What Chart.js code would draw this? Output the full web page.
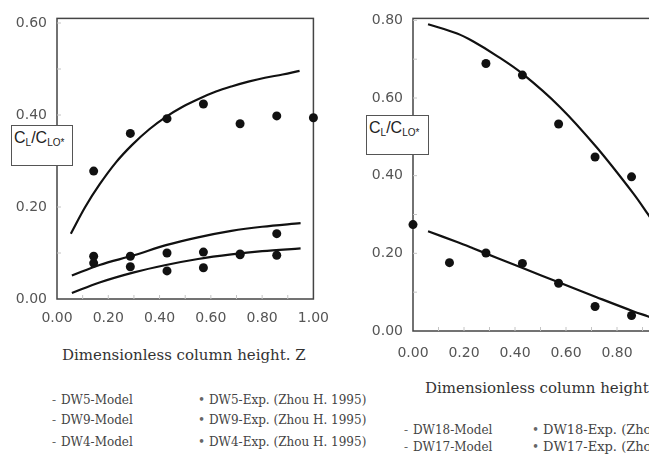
<!DOCTYPE html>
<html><head><meta charset="utf-8">
<script src="https://cdn.jsdelivr.net/npm/chart.js@4/dist/chart.umd.min.js"></script>
<style>
html,body{margin:0;padding:0;width:649px;height:456px;overflow:hidden;background:#fff;position:relative;}
canvas{position:absolute;top:0;}
#c1{left:0;}
#c2{left:340px;}
.ytitle{position:absolute;background:#fff;border:1.3px solid #555;box-sizing:border-box;font-family:'Liberation Sans',Arial,sans-serif;font-size:16px;color:#222;padding:3px 0 0 2px;line-height:18px;white-space:nowrap;}
.ytitle sub{font-size:10px;vertical-align:-3px;}
.xtitle{position:absolute;font-family:'DejaVu Serif',serif;font-size:15px;color:#333;white-space:nowrap;line-height:18px;}
.leg{position:absolute;font-family:'DejaVu Serif',serif;font-size:12px;color:#444;white-space:nowrap;line-height:14px;}
</style>
</head><body>
<canvas id="c1" width="340" height="335"></canvas>
<canvas id="c2" width="360" height="370"></canvas>
<div class="ytitle" style="left:11px;top:125px;width:62px;height:41px;">C<sub>L</sub>/C<sub>LO*</sub></div>
<div class="ytitle" style="left:366px;top:115px;width:63px;height:40px;">C<sub>L</sub>/C<sub>LO*</sub></div>
<div class="xtitle" style="left:62px;top:346px;">Dimensionless column height. Z</div>
<div class="xtitle" style="left:425px;top:379px;">Dimensionless column height. Z</div>
<div id="legends"></div>
<script>
// ---------- data: left panel ----------
const expX = [0.143, 0.286, 0.429, 0.571, 0.714, 0.857, 1.0];
const dw5Exp = [0.278, 0.360, 0.392, 0.424, 0.381, 0.398, 0.394];
const dw9dw4X = [0.143, 0.286, 0.429, 0.571, 0.714, 0.857];
const dw9Exp = [0.093, 0.093, 0.100, 0.102, 0.098, 0.142];
const dw4Exp = [0.078, 0.070, 0.061, 0.068, 0.096, 0.095];

const dw5ModelX = [0.054, 0.110, 0.166, 0.230, 0.293, 0.360, 0.425, 0.490, 0.552, 0.620, 0.680, 0.750, 0.811, 0.880, 0.946];
const dw5ModelY = [0.142, 0.200, 0.249, 0.297, 0.335, 0.369, 0.396, 0.418, 0.435, 0.451, 0.462, 0.473, 0.481, 0.488, 0.496];
const lowModelX = [0.058, 0.166, 0.300, 0.425, 0.550, 0.680, 0.800, 0.950];
const dw9ModelY = [0.051, 0.074, 0.095, 0.117, 0.134, 0.148, 0.157, 0.165];
const dw4ModelY = [0.013, 0.036, 0.058, 0.074, 0.087, 0.097, 0.104, 0.110];

// ---------- data: right panel ----------
const dw18ExpX = [0.286, 0.429, 0.571, 0.714, 0.857];
const dw18Exp = [0.689, 0.659, 0.533, 0.448, 0.397];
const dw17ExpX = [0.0, 0.143, 0.286, 0.429, 0.571, 0.714, 0.857];
const dw17Exp = [0.274, 0.176, 0.201, 0.174, 0.123, 0.063, 0.040];
const rModelX = [0.059, 0.173, 0.235, 0.330, 0.430, 0.576, 0.720, 0.863, 0.920, 0.950];
const dw18ModelY = [0.790, 0.766, 0.746, 0.708, 0.662, 0.577, 0.473, 0.355, 0.302, 0.272];
const dw17ModelY = [0.257, 0.229, 0.213, 0.188, 0.162, 0.124, 0.087, 0.051, 0.038, 0.031];

const leftLabels = ['DW5-Model','DW9-Model','DW4-Model','DW5-Exp. (Zhou H. 1995)','DW9-Exp. (Zhou H. 1995)','DW4-Exp. (Zhou H. 1995)'];
const rightLabels = ['DW18-Model','DW17-Model','DW18-Exp. (Zhou H. 1995)','DW17-Exp. (Zhou H. 1995)'];
const xTicks = [0, 0.2, 0.4, 0.6, 0.8, 1.0];

function pts(xs, ys){ return ys.map((y,i)=>({x:xs[i], y:y})); }
function lineDs(label, xs, ys){
  return {label, data:pts(xs,ys), showLine:true, borderColor:'#111', borderWidth:2.2, pointRadius:0, tension:0.35, fill:false};
}
function dotDs(label, xs, ys){
  return {label, data:pts(xs,ys), showLine:false, backgroundColor:'#111', borderColor:'#111', pointRadius:4.5, pointBorderWidth:0, clip:false};
}

const boxPlugin = {
  id:'box',
  beforeDatasetsDraw(chart){
    const a = chart.chartArea, c = chart.ctx;
    c.save(); c.strokeStyle='#444'; c.lineWidth=1.5;
    c.strokeRect(a.left, a.top, a.right-a.left, a.bottom-a.top);
    c.strokeStyle='#c4c4c4'; c.lineWidth=1;
    const xs = chart.scales.x, ys = chart.scales.y;
    for(let v=0.1; v<1.0001; v+=0.1){ const px=xs.getPixelForValue(v); if(px<a.right-1){c.beginPath();c.moveTo(px,a.bottom);c.lineTo(px,a.bottom-4);c.stroke();} }
    for(let v=0.1; v<ys.max; v+=0.1){ const py=ys.getPixelForValue(v); c.beginPath();c.moveTo(a.left,py);c.lineTo(a.left+4,py);c.stroke(); }
    c.restore();
  }
};

function makeChart(id, datasets, ymax, pad, yW, xH, xPad){
  return new Chart(document.getElementById(id), {
    type:'scatter',
    data:{datasets},
    plugins:[boxPlugin],
    options:{
      responsive:false, animation:false,
      layout:{padding:pad},
      plugins:{legend:{display:false}, tooltip:{enabled:false}},
      scales:{
        x:{type:'linear', min:0, max:1,
           afterBuildTicks(s){ s.ticks = xTicks.map(v=>({value:v})); },
           afterFit(s){ s.height = xH; },
           grid:{display:false, drawTicks:false}, border:{display:false},
           ticks:{padding:xPad, color:'#555', maxRotation:0, autoSkip:false, font:{family:'DejaVu Sans', size:14}, callback:v=>Number(v).toFixed(2)}},
        y:{type:'linear', min:0, max:ymax,
           afterBuildTicks(s){ const t=[]; for(let v=0; v<=ymax+1e-9; v+=0.2){ t.push({value:Math.round(v*10)/10}); } s.ticks=t; },
           afterFit(s){ s.width = yW; },
           grid:{display:false, drawTicks:false}, border:{display:false},
           ticks:{padding:10, color:'#555', font:{family:'DejaVu Sans', size:14}, callback:v=>Number(v).toFixed(2)}}
      }
    }
  });
}

const leftSets = [
  lineDs(leftLabels[0], dw5ModelX, dw5ModelY),
  lineDs(leftLabels[1], lowModelX, dw9ModelY),
  lineDs(leftLabels[2], lowModelX, dw4ModelY),
  dotDs(leftLabels[3], expX, dw5Exp),
  dotDs(leftLabels[4], dw9dw4X, dw9Exp),
  dotDs(leftLabels[5], dw9dw4X, dw4Exp)
];
makeChart('c1', leftSets, 0.61, {top:11, right:24, left:0, bottom:1}, 57, 35, 11);

const rightSets = [
  lineDs(rightLabels[0], rModelX, dw18ModelY),
  lineDs(rightLabels[1], rModelX, dw17ModelY),
  dotDs(rightLabels[2], dw18ExpX, dw18Exp),
  dotDs(rightLabels[3], dw17ExpX, dw17Exp)
];
makeChart('c2', rightSets, 0.805, {top:11, right:32, left:0, bottom:1}, 73, 38, 14);

// ---------- legends (HTML text) ----------
const legBox = document.getElementById('legends');
function addLeg(text, mark, x, y, size){
  const d=document.createElement('div'); d.className='leg';
  d.style.left=x+'px'; d.style.top=(y-7)+'px';
  if(size) d.style.fontSize=size+'px';
  d.innerHTML = '<span style="display:inline-block;width:'+(mark==='-'?9:11)+'px;color:#666;font-size:12px;">'+(mark==='-'?'-':'&bull;')+'</span>'+text;
  legBox.appendChild(d);
}
const leftRows=[400,420,442];
for(let i=0;i<3;i++){ addLeg(leftLabels[i],'-',52,leftRows[i]); addLeg(leftLabels[i+3],'*',198,leftRows[i]); }
const rightRows=[430,447];
for(let i=0;i<2;i++){ addLeg(rightLabels[i],'-',404,rightRows[i]); addLeg(rightLabels[i+2],'*',532,rightRows[i],13); }
</script>
</body></html>
